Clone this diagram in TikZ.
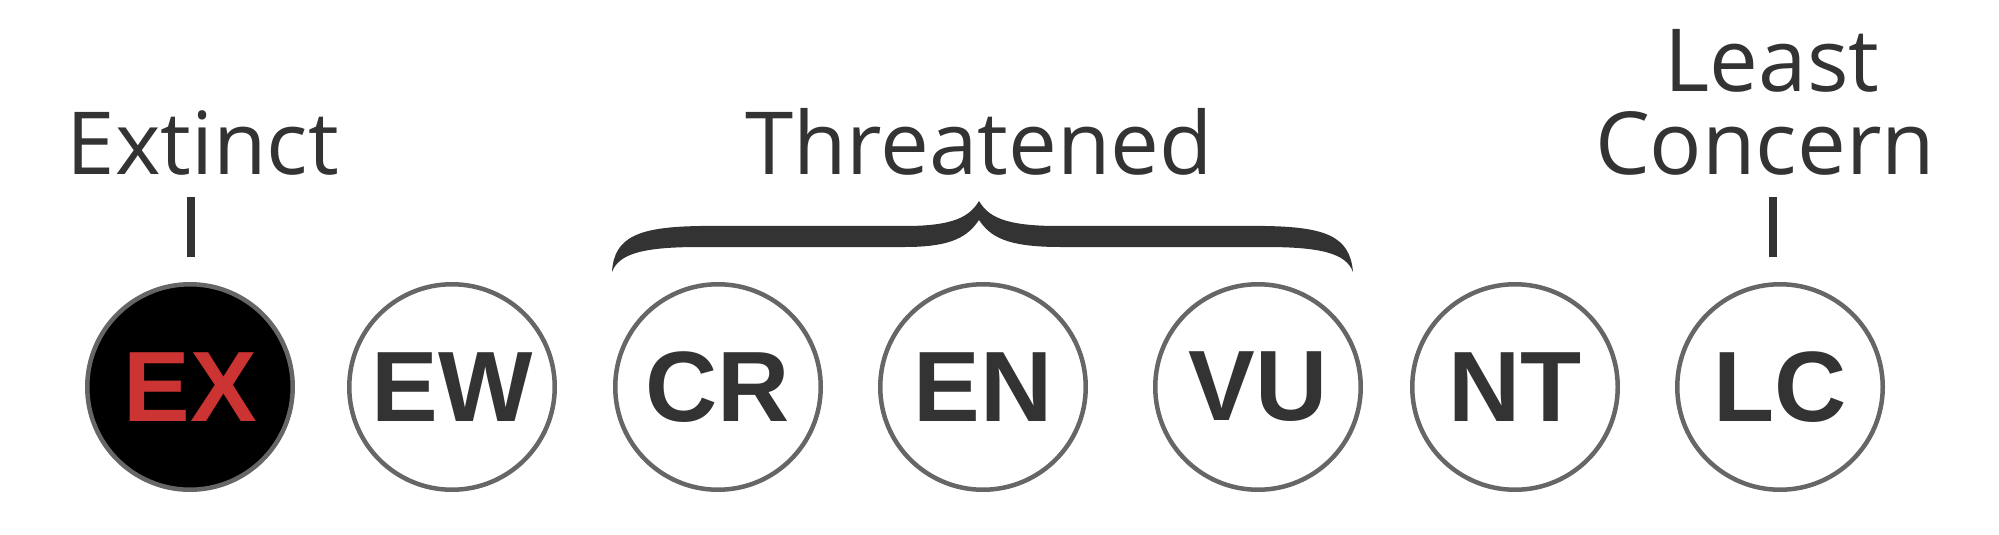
\documentclass[tikz,border=0pt]{standalone}
\usepackage{fontspec}
\setmainfont{Open Sans}
\newfontfamily\circfont{Liberation Sans}
\definecolor{ink}{HTML}{333333}
\definecolor{ring}{HTML}{666666}
\definecolor{exred}{HTML}{CC3333}
\begin{document}
\begin{tikzpicture}[x=0.5pt,y=-0.5pt,
  status/.style={circle, draw=ring, line width=2.25pt, minimum size=102.75pt,
    inner sep=0pt, fill=white, text=ink,
    font=\circfont\bfseries\fontsize{50pt}{51pt}\selectfont},
  catlabel/.style={font=\fontsize{43.5pt}{44pt}\selectfont, text=ink,
    anchor=base, inner sep=0pt},
  tickline/.style={draw=ink, line width=4pt},
  bracefill/.style={fill=ink, draw=none}]
\useasboundingbox (0,0) rectangle (1999,535);
% status circles
\node[status, fill=black, text=exred] (EX) at (190,387) {EX};
\node[status] (EW) at (452,387) {EW};
\node[status] (CR) at (718,387) {CR};
\node[status] (EN) at (983,387) {EN};
\node[status] (VU) at (1258,387) {VU};
\node[status] (NT) at (1515,387) {NT};
\node[status] (LC) at (1780,387) {LC};
% labels
\node[catlabel] (extinct) at (203,175) {Extinct};
\node[catlabel] (threat) at (979,175) {Threatened};
\node[catlabel] (least) at (1772,91.5) {Least};
\node[catlabel] (concern) at (1765,175) {Concern};
% ticks
\draw[tickline] (EX.north) ++(0.6,-25) -- ++(0,-60);
\draw[tickline] (LC.north) ++(-7,-25) -- ++(0,-60);
% brace
\fill[bracefill] (612,272) .. controls (614,236) and (640,227) .. (700,226)
  -- (905,226) .. controls (955,226) and (970,216) .. (979,201)
  .. controls (988,216) and (1003,226) .. (1058,226)
  -- (1265,226) .. controls (1325,227) and (1350,236) .. (1353,272)
  .. controls (1346,253) and (1320,247) .. (1265,247)
  -- (1060,247) .. controls (1005,247) and (990,236) .. (979,220)
  .. controls (968,236) and (953,247) .. (905,247)
  -- (700,247) .. controls (645,247) and (619,253) .. (612,272) -- cycle;
\end{tikzpicture}
\end{document}
